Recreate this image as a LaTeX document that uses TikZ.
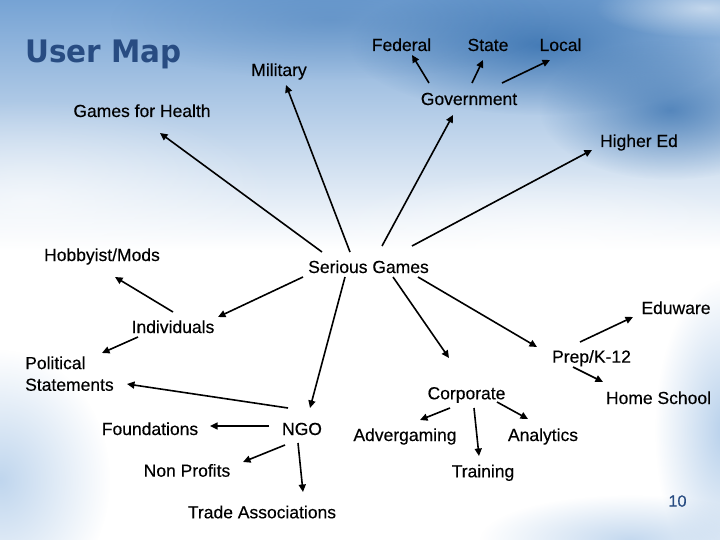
\documentclass[tikz,border=0pt]{standalone}
\usepackage{fontspec}
\setmainfont[FakeBold=0.3]{Liberation Sans}
\newfontfamily\titlefont[FakeStretch=0.95]{DejaVu Sans}
\usetikzlibrary{arrows.meta,fadings}
\tikzfading[name=softglow, inner color=transparent!0, outer color=transparent!100]
\definecolor{bgtop}{RGB}{118,163,212}
\definecolor{bgmid}{RGB}{178,205,233}
\definecolor{bgdark}{RGB}{45,105,170}
\definecolor{bglight}{RGB}{170,200,232}
\definecolor{titleblue}{RGB}{40,76,130}
\newcommand\mylink[4]{\draw[arr] ([shift={(#2)}]#1) -- ([shift={(#4)}]#3);}
\begin{document}
\begin{tikzpicture}[x=1pt,y=-1pt,
  lbl/.style={font=\fontsize{17.5}{21.7}\selectfont, inner sep=0pt, anchor=base, text=black},
  arr/.style={line width=1.6pt, -{Triangle[length=7.5pt,width=7pt]}}]
\useasboundingbox (0,0) rectangle (720,540);
% background
\fill[white] (0,0) rectangle (720,540);
\shade[top color=bgtop, middle color=bgmid, bottom color=white] (0,0) rectangle (720,250);
\fill[bgdark, path fading=softglow, fill opacity=0.75] (540,45) ellipse (190 and 70);
\fill[bgdark, path fading=softglow, fill opacity=0.7] (670,110) ellipse (130 and 70);
\fill[bgdark, path fading=softglow, fill opacity=0.3] (330,20) ellipse (220 and 60);
\fill[white, path fading=softglow, fill opacity=0.55] (705,8) ellipse (110 and 30);
\fill[white, path fading=softglow, fill opacity=0.6] (30,200) ellipse (250 and 100);
\fill[white, path fading=softglow, fill opacity=0.7] (540,250) ellipse (230 and 80);
\fill[bglight, path fading=softglow, fill opacity=0.75] (0,480) ellipse (110 and 130);
\fill[bglight, path fading=softglow, fill opacity=0.85] (725,430) ellipse (70 and 150);
\fill[bglight, path fading=softglow, fill opacity=0.7] (630,540) ellipse (150 and 45);
% title
\node[inner sep=0pt, anchor=base west, text=titleblue, font=\titlefont\bfseries\fontsize{31}{36}\selectfont] (title) at (25,62.7) {User Map};
\node[inner sep=0pt, anchor=base, text=titleblue, font=\fontsize{16.3}{19}\selectfont] (page) at (677.5,506.7) {10};
% nodes
\node[lbl] (fed) at (401.5,51) {Federal};
\node[lbl] (state) at (488,51) {State};
\node[lbl] (local) at (560.5,51) {Local};
\node[lbl] (mil) at (279,76) {Military};
\node[lbl] (gov) at (469,105) {Government};
\node[lbl] (gfh) at (142,117) {Games for Health};
\node[lbl] (hed) at (639,147) {Higher Ed};
\node[lbl] (hob) at (102,261) {Hobbyist/Mods};
\node[lbl] (sg) at (368.5,273) {Serious Games};
\node[lbl] (edu) at (676,314) {Eduware};
\node[lbl] (ind) at (173,333) {Individuals};
\node[lbl, anchor=north west, align=left] (pol) at (25,356.2) {Political\\Statements};
\node[lbl] (prep) at (591.5,362.7) {Prep/K-12};
\node[lbl] (corp) at (466.5,399.3) {Corporate};
\node[lbl] (home) at (658.5,404) {Home School};
\node[lbl] (found) at (150,435) {Foundations};
\node[lbl] (ngo) at (302,435) {NGO};
\node[lbl] (adv) at (405,441) {Advergaming};
\node[lbl] (ana) at (543,441) {Analytics};
\node[lbl] (np) at (187,476.7) {Non Profits};
\node[lbl] (train) at (483,477.3) {Training};
\node[lbl] (trade) at (262,518.3) {Trade Associations};
% connectors
\mylink{sg.base}{-46.5,-21}{gfh.base}{18,16}
\mylink{sg.base}{-18.5,-21}{mil.base}{7,9}
\mylink{sg.base}{13.5,-27}{gov.base}{-16,10}
\mylink{sg.base}{43.5,-27}{hed.base}{-47,3}
\mylink{gov.base}{-40,-22}{fed.base}{10.5,4}
\mylink{gov.base}{3,-22}{state.base}{-5,9}
\mylink{gov.base}{33,-22}{local.base}{-10.5,9}
\mylink{sg.base}{-65.5,4}{ind.base}{45,-16}
\mylink{ind.base}{0,-21}{hob.base}{13,16}
\mylink{ind.base}{-35,4}{pol.north west}{77,-3.2}
\mylink{sg.base}{-23.5,4}{ngo.base}{8,-27}
\mylink{sg.base}{24.5,4}{corp.base}{-17.5,-41.3}
\mylink{sg.base}{49.5,4}{prep.base}{-54.5,-15.7}
\mylink{prep.base}{-11.5,-20.7}{edu.base}{-43,3}
\mylink{prep.base}{-18.5,4.3}{home.base}{-55.5,-22}
\mylink{ngo.base}{-14,-27}{pol.north west}{102,27.8}
\mylink{ngo.base}{-33,-9}{found.base}{60,-9}
\mylink{ngo.base}{-17,10}{np.base}{56,-14.7}
\mylink{ngo.base}{-4,8}{trade.base}{41,-26.3}
\mylink{corp.base}{-16.5,8.7}{adv.base}{15,-21}
\mylink{corp.base}{7.5,8.7}{train.base}{-4,-21.3}
\mylink{corp.base}{30.5,2.7}{ana.base}{-15,-22}
\end{tikzpicture}
\end{document}
